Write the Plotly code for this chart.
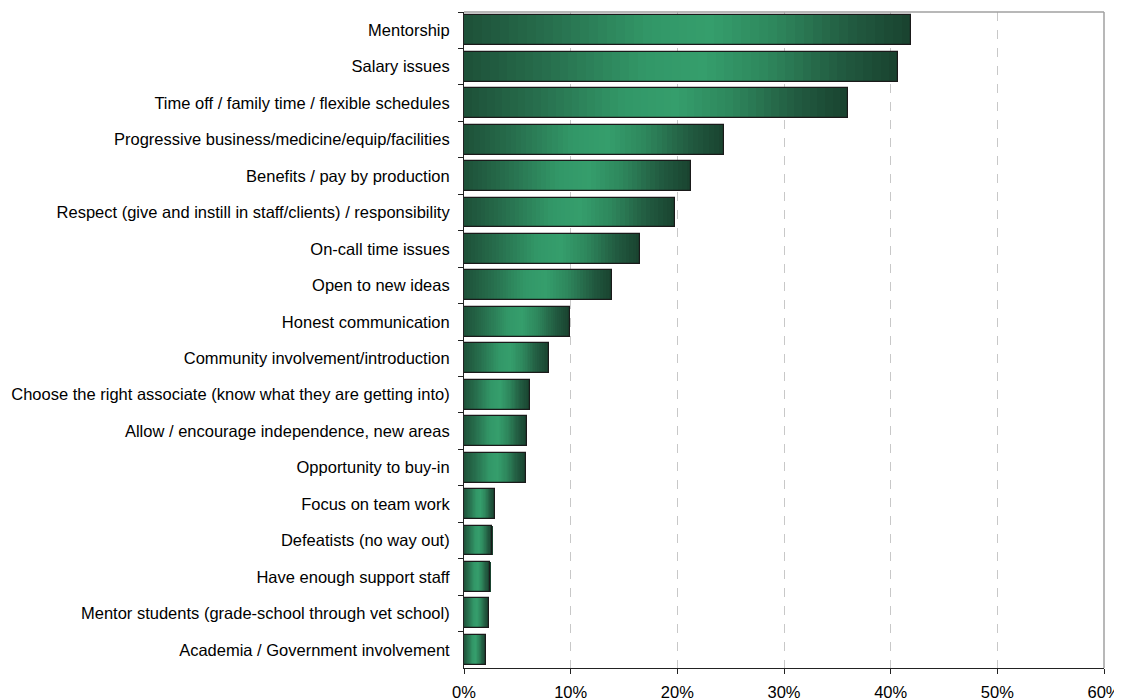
import plotly.graph_objects as go

categories = [
    "Mentorship",
    "Salary issues",
    "Time off / family time / flexible schedules",
    "Progressive business/medicine/equip/facilities",
    "Benefits / pay by production",
    "Respect (give and instill in staff/clients) / responsibility",
    "On-call time issues",
    "Open to new ideas",
    "Honest communication",
    "Community involvement/introduction",
    "Choose the right associate (know what they are getting into)",
    "Allow / encourage independence, new areas",
    "Opportunity to buy-in",
    "Focus on team work",
    "Defeatists (no way out)",
    "Have enough support staff",
    "Mentor students (grade-school through vet school)",
    "Academia / Government involvement",
]
values = [41.9, 40.7, 36.0, 24.4, 21.3, 19.8, 16.5, 13.9, 9.9, 8.0,
          6.2, 5.9, 5.8, 2.9, 2.65, 2.45, 2.3, 2.05]
x_ticks = [0, 10, 20, 30, 40, 50, 60]
x_tick_labels = ["0%", "10%", "20%", "30%", "40%", "50%", "60%"]

# gradient stops along the bar length (position, rgb)
stops = [
    (0.00, (29, 80, 56)),
    (0.20, (40, 112, 78)),
    (0.42, (50, 152, 104)),
    (0.55, (53, 158, 108)),
    (0.70, (46, 134, 92)),
    (0.86, (34, 92, 65)),
    (1.00, (25, 66, 47)),
]


def grad(t):
    for (p0, c0), (p1, c1) in zip(stops[:-1], stops[1:]):
        if p0 <= t <= p1:
            f = (t - p0) / (p1 - p0) if p1 > p0 else 0
            c = [round(a + (b - a) * f) for a, b in zip(c0, c1)]
            return "rgb(%d,%d,%d)" % tuple(c)
    return "rgb(%d,%d,%d)" % stops[-1][1]


N = 50
BW = 0.82
fig = go.Figure()
for i in range(N):
    t = (i + 0.5) / N
    col = grad(t)
    fig.add_trace(go.Bar(
        y=categories,
        x=[v / N for v in values],
        base=[v * i / N for v in values],
        orientation="h",
        width=BW,
        marker=dict(color=col, line=dict(width=0)),
        hoverinfo="skip",
        showlegend=False,
    ))

fig.add_trace(go.Bar(
    y=categories,
    x=values,
    orientation="h",
    width=BW,
    marker=dict(color="rgba(0,0,0,0)", line=dict(color="#1a1a1a", width=1.2)),
    showlegend=False,
))

fig.update_layout(
    width=1114, height=692,
    barmode="overlay", bargap=0, bargroupgap=0,
    plot_bgcolor="white", paper_bgcolor="white",
    margin=dict(l=456, r=18, t=4, b=32),
    font=dict(family="Liberation Sans", size=16.5, color="#000000"),
    xaxis=dict(
        range=[0, 60], tickvals=x_ticks, ticktext=x_tick_labels,
        showgrid=True, gridcolor="#c8c8c8", griddash="dash", gridwidth=1,
        showline=True, linecolor="#222222", linewidth=1,
        ticks="outside", ticklen=5, tickcolor="#222222",
        zeroline=False, automargin=False,
        tickfont=dict(size=16.5),
        ticklabelstandoff=4,
    ),
    yaxis=dict(
        categoryorder="array", categoryarray=categories,
        autorange="reversed",
        showline=True, linecolor="#222222", linewidth=1,
        ticks="outside", ticklen=5, tickcolor="#222222",
        tickson="boundaries",
        showgrid=False, zeroline=False, automargin=False,
        tickfont=dict(size=16.5),
        ticklabelstandoff=10,
    ),
    shapes=[
        dict(type="line", xref="x domain", yref="y domain", x0=0, x1=1, y0=1, y1=1,
             line=dict(color="#a0a0a0", width=1.5)),
        dict(type="line", xref="x domain", yref="y domain", x0=1, x1=1, y0=0, y1=1,
             line=dict(color="#a0a0a0", width=1.5)),
    ],
)

fig.write_html("out.html")
